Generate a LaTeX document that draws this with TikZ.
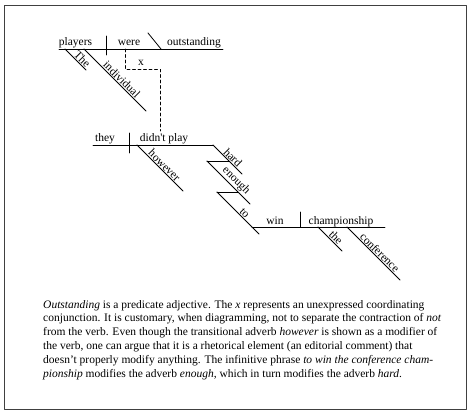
\documentclass[tikz,border=0pt]{standalone}
\usepackage{fontspec}
\setmainfont{Liberation Serif}
\usepackage{tkz-euclide}
\definecolor{FrameClr}{rgb}{0.25,0.25,0.25}
\tikzset{word/.style={anchor=base,inner sep=0pt,font=\fontsize{11.5}{13.8}\selectfont},
  slant/.style={sloped,above,inner sep=1pt,font=\fontsize{11.5}{13.8}\selectfont}}

\begin{document}
\begin{tikzpicture}[x=1pt,y=-1pt]
\tkzSetUpLine[line width=0.8pt,color=black]

\tkzDefPoints{0/0/O,474/416/E}
\useasboundingbox (O) rectangle (E);
\tkzDefPoints{4.5/5.5/F1,466.5/5.5/F2,466.5/409/F3,4.5/409/F4}
\tkzDrawPolygon[line width=1pt,color=FrameClr](F1,F2,F3,F4)

% players were outstanding
\tkzDefPoints{59/49/A1,223/49/A2,106/36/D1,106/55/D2,148/33/S1,161/49/S2}
\tkzDefPoints{65/49/M1,86/70/M2,84/49/M3,146/111/M4}
\tkzDefPoints{75.5/45/Wplayers,129/45/Wwere,194/45/Woutstanding}
\tkzDrawSegments(A1,A2 D1,D2 S1,S2 M1,M2 M3,M4)
\tkzLabelPoint[word,name=players](Wplayers){players}
\tkzLabelPoint[word,name=were](Wwere){were}
\tkzLabelPoint[word,name=outstanding](Woutstanding){outstanding}
\tkzLabelSegment[slant,pos=.65,name=the1](M1,M2){The}
\tkzLabelSegment[slant,pos=.55,name=individual](M3,M4){individual}

% unexpressed x
\tkzDefPoints{125/49/X1,125/69/X2,160/69/X3,160/131/X4,141/65/Wx}
\tkzDrawPolySeg[dashed,dash pattern=on 3pt off 2.5pt](X1,X2,X3,X4)
\tkzLabelPoint[word,name=x](Wx){x}

% they didn't play
\tkzDefPoints{93/145/B1,213/145/B2,129/133/D3,129/153/D4}
\tkzDefPoints{137/145/H1,183/191/H2,213/145/R1,242/174/R2}
\tkzDefPoints{207/161/N0,229/161/N1,250/204/N2,217/192/T0,238/192/T1,259/234/T2}
\tkzDefPoints{105/141.5/Wthey,164/141.5/Wplay}
\tkzDrawSegments(B1,B2 D3,D4 H1,H2 R1,R2 N0,N1 N0,N2 T0,T1 T0,T2)
\tkzLabelPoint[word,name=they](Wthey){they}
\tkzLabelPoint[word,name=play](Wplay){didn\textquotesingle t play}
\tkzLabelSegment[slant,pos=.52,name=however](H1,H2){however}
\tkzLabelSegment[slant,pos=.56,name=hard](R1,R2){hard}
\tkzLabelSegment[slant,pos=.57,name=enough](N0,N2){enough}
\tkzLabelSegment[slant,pos=.58,name=to](T0,T2){to}

% win championship
\tkzDefPoints{252/227/C1,385/227/C2,300/212/D5,300/227/D6}
\tkzDefPoints{318/227/E1,342/251/E2,347/227/K1,400/280/K2}
\tkzDefPoints{275/224/Wwin,341/224/Wchamp}
\tkzDrawSegments(C1,C2 D5,D6 E1,E2 K1,K2)
\tkzLabelPoint[word,name=win](Wwin){win}
\tkzLabelPoint[word,name=championship](Wchamp){championship}
\tkzLabelSegment[slant,pos=.6,name=the2](E1,E2){the}
\tkzLabelSegment[slant,pos=.55,name=conference](K1,K2){conference}

% note
\tkzDefPoints{43/300/P}
\tkzLabelPoint[anchor=north west,align=left,inner sep=0pt,name=note,
  font=\fontsize{11.5}{13.8}\selectfont](P){%
\emph{Outstanding} is a predicate adjective. The \emph{x} represents an unexpressed coordinating\\
conjunction. It is customary, when diagramming, not to separate the contraction of \emph{not}\\
from the verb. Even though the transitional adverb \emph{however} is shown as a modifier of\\
the verb, one can argue that it is a rhetorical element (an editorial comment) that\\
doesn't properly modify anything. The infinitive phrase \emph{to win the conference cham-}\\
\emph{pionship} modifies the adverb \emph{enough}, which in turn modifies the adverb \emph{hard}.}

\end{tikzpicture}
\end{document}
